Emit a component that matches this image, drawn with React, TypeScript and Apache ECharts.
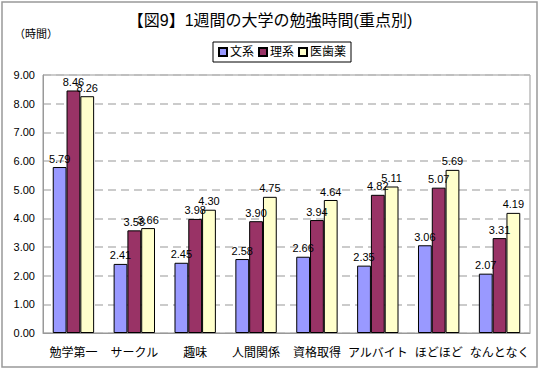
import React, { useEffect, useRef } from "react";
import * as echarts from "echarts";

const categories = ["勉学第一", "サークル", "趣味", "人間関係", "資格取得", "アルバイト", "ほどほど", "なんとなく"];
const bunkei = [5.79, 2.41, 2.45, 2.58, 2.66, 2.35, 3.06, 2.07];
const rikei = [8.46, 3.58, 3.98, 3.9, 3.94, 4.82, 5.07, 3.31];
const ishiyaku = [8.26, 3.66, 4.3, 4.75, 4.64, 5.11, 5.69, 4.19];
const seriesNames = ["文系", "理系", "医歯薬"];
const colors = ["#9999FF", "#993366", "#FFFFCC"];

const FONT = "'Liberation Sans', 'Noto Sans CJK JP', sans-serif";

export default function App() {
  const ref = useRef<HTMLDivElement>(null);
  useEffect(() => {
    const chart = echarts.init(ref.current!, null, { renderer: "svg" });
    const datasets = [bunkei, rikei, ishiyaku];
    chart.setOption({
      animation: false,
      textStyle: { fontFamily: FONT },
      title: {
        text: "【図9】1週間の大学の勉強時間(重点別)",
        left: "center",
        top: 7,
        textStyle: { fontSize: 16, fontWeight: "normal", color: "#000", fontFamily: FONT },
      },
      legend: {
        data: seriesNames,
        top: 42,
        left: 213,
        itemWidth: 8,
        itemHeight: 8,
        itemGap: 4,
        icon: "rect",
        borderColor: "#000",
        borderWidth: 1,
        padding: [4, 5, 4, 5],
        textStyle: { fontSize: 12, color: "#000", fontFamily: FONT, padding: [0, 0, 0, -2] },
      },
      graphic: [
        {
          type: "text",
          left: 14,
          top: 28,
          style: { text: "（時間）", fontSize: 11, fill: "#000", fontFamily: FONT },
        },
        {
          type: "rect",
          shape: { x: 2, y: 2, width: 535, height: 365 },
          style: { fill: "none", stroke: "#999", lineWidth: 1.5 },
          silent: true,
        },
      ],
      grid: {
        left: 43,
        right: 10,
        top: 75,
        bottom: 37,
        show: true,
        borderColor: "#999",
        borderWidth: 1,
      },
      xAxis: {
        type: "category",
        data: categories,
        axisLine: { lineStyle: { color: "#999" } },
        axisTick: { show: false },
        axisLabel: { fontSize: 12, color: "#000", margin: 14, interval: 0, fontFamily: FONT },
      },
      yAxis: {
        type: "value",
        min: 0,
        max: 9,
        interval: 1,
        axisLine: { show: true, lineStyle: { color: "#999" } },
        axisTick: { show: false },
        axisLabel: {
          fontSize: 11,
          color: "#000",
          margin: 8,
          formatter: (v: number) => v.toFixed(2),
          fontFamily: FONT,
        },
        splitLine: { lineStyle: { color: "#bbb", type: [8, 5], width: 1.5 } },
      },
      series: datasets.map((d, i) => ({
        name: seriesNames[i],
        type: "bar",
        data: d,
        barGap: "0%",
        barCategoryGap: "32%",
        itemStyle: { color: colors[i], borderColor: "#000", borderWidth: 1 },
        label: {
          show: true,
          position: "top",
          distance: 3,
          fontSize: 11,
          color: "#000",
          fontFamily: FONT,
          formatter: (p: any) => (p.value as number).toFixed(2),
        },
      })),
    });
    return () => chart.dispose();
  }, []);
  return <div ref={ref} style={{ width: 540, height: 370, position: "absolute", left: 0, top: 0, background: "#fff" }} />;
}
